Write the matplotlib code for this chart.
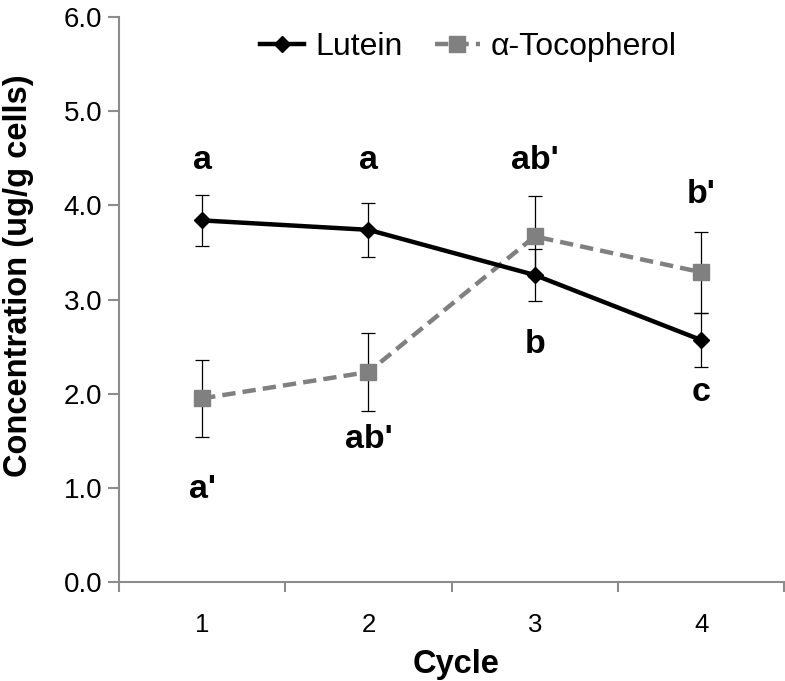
import matplotlib
matplotlib.use("Agg")
import matplotlib.pyplot as plt
from matplotlib.ticker import FixedLocator, NullFormatter

plt.rcParams['font.family'] = ['Liberation Sans', 'DejaVu Sans']

cycles = [1, 2, 3, 4]
lutein = [3.84, 3.74, 3.26, 2.57]
lutein_err = [0.27, 0.29, 0.28, 0.29]
toco = [1.95, 2.23, 3.67, 3.29]
toco_err = [0.41, 0.41, 0.43, 0.43]

labels_text = ["a", "a", "ab'", "b'", "b", "c", "a'", "ab'"]
labels_x = [1, 2, 3, 4, 3, 4, 1, 2]
labels_y = [4.48, 4.48, 4.48, 4.11, 2.52, 2.01, 0.98, 1.51]

yticks = [0.0, 1.0, 2.0, 3.0, 4.0, 5.0, 6.0]

fig = plt.figure(figsize=(7.85, 6.81), dpi=100)
ax = fig.add_axes([0.1516, 0.1454, 0.8474, 0.8296])

gray = '#808080'
axis_gray = '#8c8c8c'

ax.errorbar(cycles, toco, yerr=toco_err, fmt='none', ecolor='black',
            elinewidth=0.9, capsize=5, capthick=0.9, zorder=2)
ax.errorbar(cycles, lutein, yerr=lutein_err, fmt='none', ecolor='black',
            elinewidth=0.9, capsize=5, capthick=0.9, zorder=2)

ax.plot(cycles, lutein, color='black', lw=3.2, marker='D', ms=8,
        mfc='black', mec='black', label='Lutein', zorder=4)
ax.plot(cycles, toco, color=gray, lw=3.2, ls=(0, (3, 1.6)), marker='s', ms=12,
        mfc=gray, mec=gray, label='\u03b1-Tocopherol', zorder=3)

for t, x, y in zip(labels_text, labels_x, labels_y):
    ax.text(x, y, t, ha='center', va='center', fontsize=24.5, fontweight='bold')

ax.set_xlim(0.5, 4.5)
ax.set_ylim(0, 6.0)
ax.set_yticks(yticks)
ax.set_yticklabels([f"{v:.1f}" for v in yticks])

ax.xaxis.set_major_locator(FixedLocator([0.5, 1.5, 2.5, 3.5, 4.5]))
ax.xaxis.set_major_formatter(NullFormatter())
ax.xaxis.set_minor_locator(FixedLocator(cycles))
ax.set_xticklabels([str(c) for c in cycles], minor=True)
ax.tick_params(axis='x', which='minor', length=0, pad=22, labelsize=18.5)
ax.tick_params(axis='x', which='major', length=7, width=1.5, color=axis_gray)
ax.tick_params(axis='y', length=8, width=1.5, color=axis_gray, labelsize=20, pad=4)

for s in ['top', 'right']:
    ax.spines[s].set_visible(False)
for s in ['left', 'bottom']:
    ax.spines[s].set_color(axis_gray)
    ax.spines[s].set_linewidth(1.5)

ax.set_xlabel('Cycle', fontsize=23.5, fontweight='bold')
ax.xaxis.set_label_coords(0.506, -0.118)
ax.set_ylabel('Concentration (ug/g cells)', fontsize=23.5, fontweight='bold')
ax.yaxis.set_label_coords(-0.128, 0.543)

leg = ax.legend(loc='center', bbox_to_anchor=(0.525, 0.947), ncol=2, frameon=False,
                fontsize=23, handlelength=1.4, columnspacing=1.0, handletextpad=0.35)

fig.savefig('out.png', dpi=100)
